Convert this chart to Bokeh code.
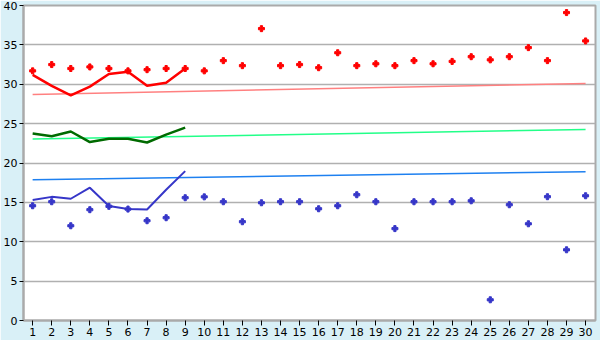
from bokeh.plotting import figure
from bokeh.models import FixedTicker, Range1d
from bokeh.embed import file_html
from bokeh.resources import INLINE

days = list(range(1, 31))
red_pts = [31.7, 32.5, 32.0, 32.2, 32.0, 31.7, 31.85, 32.0, 32.0, 31.7,
           33.0, 32.36, 37.06, 32.36, 32.5, 32.1, 34.0, 32.36, 32.6, 32.36,
           33.0, 32.6, 32.9, 33.5, 33.1, 33.5, 34.65, 33.0, 39.1, 35.5]
blue_pts = [14.57, 15.08, 12.03, 14.07, 14.5, 14.15, 12.67, 13.05, 15.59, 15.7,
            15.08, 12.54, 14.95, 15.08, 15.08, 14.19, 14.57, 15.97, 15.08, 11.67,
            15.08, 15.08, 15.08, 15.2, 2.63, 14.7, 12.28, 15.72, 8.98, 15.84]

line_days = list(range(1, 10))
red_line = [31.2, 29.8, 28.6, 29.7, 31.3, 31.6, 29.8, 30.2, 32.0]
green_line = [23.76, 23.4, 24.0, 22.66, 23.08, 23.08, 22.6, 23.6, 24.5]
blue_line = [15.29, 15.7, 15.46, 16.86, 14.53, 14.15, 14.1, 16.6, 18.97]

trend_days = [1, 30]
red_trend = [28.7, 30.1]
green_trend = [23.04, 24.26]
blue_trend = [17.88, 18.9]

y_ticks = [0, 5, 10, 15, 20, 25, 30, 35, 40]

p = figure(width=600, height=340, output_backend="svg", toolbar_location=None,
           x_range=Range1d(0.52, 30.52), y_range=Range1d(0, 40),
           min_border_left=21, min_border_right=5, min_border_top=5, min_border_bottom=20)
p.background_fill_color = "white"
p.border_fill_color = "#D9F0F7"
p.outline_line_color = "#AAAAAA"
p.outline_line_width = 2

p.xgrid.visible = False
p.ygrid.ticker = FixedTicker(ticks=y_ticks)
p.ygrid.grid_line_color = "#B0B0B0"
p.ygrid.grid_line_width = 1.5

p.xaxis.ticker = FixedTicker(ticks=days)
p.yaxis.ticker = FixedTicker(ticks=y_ticks)
for ax in (p.xaxis, p.yaxis):
    ax.axis_line_color = "#AAAAAA"
    ax.axis_line_width = 2
    ax.major_tick_line_color = "black"
    ax.major_tick_in = 0
    ax.minor_tick_line_color = None
    ax.major_label_text_font = "DejaVu Sans"
    ax.major_label_text_font_size = "11px"
    ax.major_label_text_color = "black"
p.xaxis.major_tick_out = 5
p.yaxis.major_tick_out = 4
p.xaxis.major_label_standoff = 2
p.yaxis.major_label_standoff = 2

# trend lines
p.line(trend_days, red_trend, line_color="#FF8080", line_width=1.5)
p.line(trend_days, green_trend, line_color="#22FF88", line_width=1.5)
p.line(trend_days, blue_trend, line_color="#1E80F0", line_width=1.5)

# daily lines
p.line(line_days, green_line, line_color="#006A00", line_width=2.5)
p.line(line_days, blue_line, line_color="#3636C8", line_width=2)
p.line(line_days, red_line, line_color="#FF0000", line_width=2.5)

# scatter
p.scatter(days, red_pts, marker="plus", size=6, color="#FF0000")
p.scatter(days, blue_pts, marker="plus", size=6, color="#3636C8")

open("out.html", "w").write(file_html(p, INLINE))
